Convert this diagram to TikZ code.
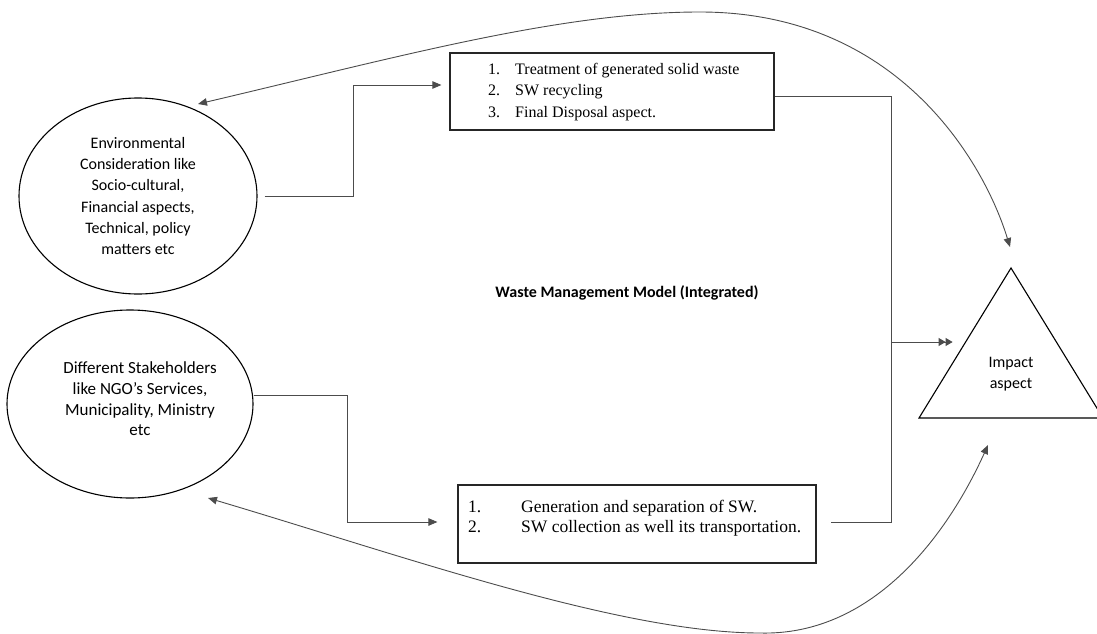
\documentclass[tikz,border=0pt]{standalone}
\usepackage{fontspec}
\setmainfont{Carlito}
\newfontfamily\tnr{Liberation Serif}
\usetikzlibrary{arrows.meta,shapes.geometric,calc}
\begin{document}
\begin{tikzpicture}[x=1pt,y=-1pt,
  shapeline/.style={draw=black,line width=1.1pt},
  ell/.style={shapeline,ellipse,inner sep=0pt,align=center,font=\fontsize{16}{21.2}\selectfont},
  boxx/.style={draw=black!85,line width=1.2pt,rectangle,inner sep=0pt},
  btext/.style={inner sep=0pt,align=left,font=\tnr\fontsize{16}{21.5}\selectfont},
  conn/.style={draw=black!70,line width=0.8pt},
  tip/.style={-{Triangle[length=9pt,width=7.5pt]}},
  dtip/.style={-{Triangle[length=7pt,width=8pt]Triangle[length=7pt,width=8pt]}},
  lbl/.style={inner sep=0pt,align=center,font=\fontsize{16}{21}\selectfont}]
\useasboundingbox (0,0) rectangle (1097,634);

% ellipses
\node[ell,minimum width=238pt,minimum height=196pt] (e1) at (138,196)
  {Environmental\\Consideration like\\Socio-cultural,\\Financial aspects,\\Technical, policy\\matters etc};
\node[ell,minimum width=246pt,minimum height=188pt] (e2) at (130,404) {};
\node[lbl,font=\fontsize{17}{20.7}\selectfont] (e2t) at (140,399) {Different Stakeholders\\like NGO’s Services,\\Municipality, Ministry\\etc};

% boxes
\node[boxx,minimum width=324pt,minimum height=77pt] (b1) at (612,91.5) {};
\node[btext,anchor=west] (b1t) at (488,92)
  {\makebox[27pt][l]{1.}Treatment of generated solid waste\\
   \makebox[27pt][l]{2.}SW recycling\\
   \makebox[27pt][l]{3.}Final Disposal aspect.};
\node[boxx,minimum width=358pt,minimum height=78pt] (b2) at (637,524) {};
\node[btext,anchor=west,font=\tnr\fontsize{17.5}{20}\selectfont] (b2t) at (468,518.5)
  {\makebox[53pt][l]{1.}Generation and separation of SW.\\
   \makebox[53pt][l]{2.}SW collection as well its transportation.};

% title
\node[lbl,font=\bfseries\fontsize{16}{18}\selectfont] (title) at (627,293) {Waste Management Model (Integrated)};

% triangle
\coordinate (apex) at (1011,268);
\coordinate (bl) at (919,418);
\coordinate (br) at (1103,418);
\draw[shapeline] (apex) -- (bl) -- (br) -- cycle;
\node[lbl] (imp) at (1011,374.5) {Impact\\aspect};

% connectors
\draw[conn,tip,shorten <=7pt,shorten >=8pt] (e1.east) -- (353,196) |- ([yshift=6.5pt]b1.west);
\draw[conn,tip,shorten >=20pt] ([yshift=9pt]e2.east) -- (347,395) |- ([yshift=2pt]b2.west);
\coordinate (jn) at (891,342);
\draw[conn,shorten >=14pt] ([yshift=-4.5pt]b1.east) -| (jn) |- ([yshift=2pt]b2.east);
\coordinate (tleft) at (965.6,342);
\draw[conn,dtip,shorten >=13pt] (jn) -- (tleft);

% top curve
\coordinate (tl) at (198,104);
\coordinate (tt) at (700,12);
\coordinate (tr) at (1010,247);
\draw[conn,line width=0.9pt,{Triangle[length=9pt,width=7.5pt]}-{Triangle[length=9pt,width=7.5pt]}]
  (tl) .. controls (398,57) and (560,12) .. (tt)
       .. controls (900,12) and (985,165) .. (tr);

% bottom curve
\coordinate (bl2) at (208,498);
\coordinate (bb) at (760,633);
\coordinate (br2) at (988,445);
\draw[conn,line width=0.9pt,{Triangle[length=9pt,width=7.5pt]}-{Triangle[length=9pt,width=7.5pt]}]
  (bl2) .. controls (400,555) and (620,633) .. (bb)
        .. controls (870,636) and (945,540) .. (br2);
\end{tikzpicture}
\end{document}
